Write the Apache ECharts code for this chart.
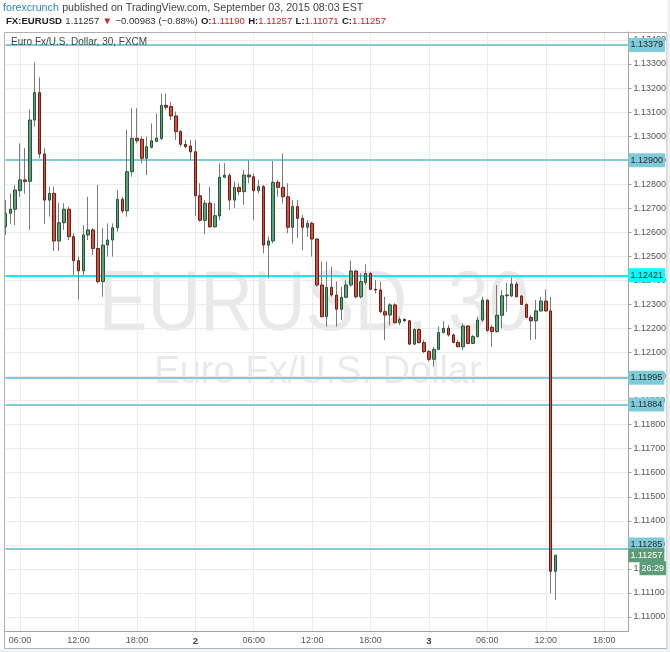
<!DOCTYPE html>
<html><head><meta charset="utf-8">
<script src="https://cdn.jsdelivr.net/npm/echarts@6/dist/echarts.min.js"></script>
<style>html,body{margin:0;padding:0;background:#fff;}#c{width:670px;height:652px;}</style>
</head><body><div id="c"></div>
<script>
// ---- data (30-minute EUR/USD candles, Sep 1 04:30 -> Sep 3 13:00) ----
const opens = [
1.12623,1.12679,1.12696,1.12773,1.12818,1.12812,1.13067,1.13181,1.12926,1.12734,
1.12762,1.12564,1.12640,1.12696,1.12582,1.12482,1.12440,1.12589,1.12610,1.12533,
1.12395,1.12547,1.12568,1.12619,1.12737,1.12689,1.12852,1.12991,1.12987,1.12908,
1.12953,1.12978,1.12990,1.13128,1.13123,1.13084,1.13019,1.12966,1.12959,1.12935,
1.12752,1.12650,1.12721,1.12623,1.12668,1.12829,1.12836,1.12734,1.12787,1.12769,
1.12838,1.12831,1.12773,1.12790,1.12547,1.12564,1.12808,1.12787,1.12748,1.12621,
1.12707,1.12658,1.12621,1.12637,1.12572,1.12381,1.12249,1.12371,1.12339,1.12280,
1.12330,1.12381,1.12439,1.12332,1.12392,1.12429,1.12363,1.12360,1.12270,1.12256,
1.12298,1.12224,1.12238,1.12232,1.12135,1.12196,1.12141,1.12104,1.12072,1.12113,
1.12183,1.12201,1.12173,1.12142,1.12124,1.12210,1.12138,1.12166,1.12235,1.12318,
1.12205,1.12187,1.12255,1.12336,1.12335,1.12385,1.12335,1.12300,1.12246,1.12232,
1.12273,1.12314,1.12273,1.11190];
const highs = [
1.12734,1.12762,1.12797,1.12970,1.12950,1.13111,1.13306,1.13245,1.12949,1.12790,
1.12790,1.12721,1.12721,1.12707,1.12596,1.12499,1.12630,1.12748,1.12617,1.12797,
1.12617,1.12637,1.12637,1.12776,1.12748,1.13026,1.13116,1.13116,1.12998,1.12998,
1.13053,1.13095,1.13178,1.13178,1.13143,1.13102,1.13026,1.12984,1.12984,1.12984,
1.12804,1.12734,1.12790,1.12721,1.12887,1.12887,1.12845,1.12811,1.12804,1.12859,
1.12898,1.12845,1.12818,1.12797,1.12582,1.12896,1.12818,1.12928,1.12804,1.12734,
1.12734,1.12672,1.12651,1.12644,1.12575,1.12478,1.12478,1.12457,1.12395,1.12374,
1.12402,1.12482,1.12443,1.12429,1.12467,1.12434,1.12402,1.12395,1.12332,1.12305,
1.12305,1.12249,1.12242,1.12235,1.12201,1.12201,1.12152,1.12110,1.12124,1.12208,
1.12231,1.12214,1.12180,1.12152,1.12221,1.12214,1.12173,1.12249,1.12332,1.12321,
1.12214,1.12381,1.12360,1.12390,1.12413,1.12395,1.12339,1.12305,1.12256,1.12318,
1.12332,1.12363,1.12332,1.11257];
const lows = [
1.12589,1.12637,1.12630,1.12748,1.12760,1.12610,1.13039,1.12908,1.12635,1.12665,
1.12522,1.12522,1.12610,1.12568,1.12422,1.12321,1.12422,1.12568,1.12506,1.12388,
1.12332,1.12499,1.12499,1.12603,1.12679,1.12665,1.12831,1.12970,1.12887,1.12838,
1.12949,1.12977,1.12984,1.13109,1.13067,1.12984,1.12956,1.12949,1.12901,1.12668,
1.12644,1.12592,1.12619,1.12619,1.12651,1.12825,1.12693,1.12700,1.12755,1.12714,
1.12804,1.12651,1.12762,1.12513,1.12409,1.12554,1.12748,1.12721,1.12596,1.12554,
1.12575,1.12526,1.12582,1.12499,1.12374,1.12246,1.12208,1.12332,1.12208,1.12235,
1.12325,1.12374,1.12325,1.12325,1.12381,1.12360,1.12346,1.12263,1.12152,1.12214,
1.12221,1.12214,1.12229,1.12131,1.12131,1.12138,1.12097,1.12062,1.12041,1.12110,
1.12180,1.12166,1.12138,1.12122,1.12110,1.12135,1.12135,1.12163,1.12228,1.12187,
1.12124,1.12183,1.12201,1.12270,1.12332,1.12330,1.12298,1.12242,1.12152,1.12155,
1.12270,1.12270,1.11099,1.11071];
const closes = [
1.12679,1.12696,1.12776,1.12818,1.12812,1.13067,1.13181,1.12926,1.12734,1.12762,
1.12564,1.12640,1.12696,1.12582,1.12482,1.12440,1.12589,1.12610,1.12533,1.12395,
1.12547,1.12568,1.12619,1.12737,1.12689,1.12852,1.12991,1.12981,1.12908,1.12956,
1.12981,1.12992,1.13128,1.13120,1.13084,1.13019,1.12966,1.12956,1.12935,1.12752,
1.12650,1.12721,1.12623,1.12669,1.12829,1.12838,1.12734,1.12787,1.12769,1.12838,
1.12831,1.12773,1.12790,1.12547,1.12564,1.12808,1.12787,1.12748,1.12621,1.12707,
1.12658,1.12621,1.12637,1.12572,1.12381,1.12249,1.12371,1.12339,1.12280,1.12330,
1.12381,1.12439,1.12332,1.12395,1.12429,1.12363,1.12360,1.12270,1.12256,1.12298,
1.12224,1.12238,1.12232,1.12135,1.12196,1.12141,1.12104,1.12072,1.12113,1.12183,
1.12201,1.12173,1.12142,1.12124,1.12210,1.12138,1.12166,1.12235,1.12318,1.12191,
1.12187,1.12255,1.12336,1.12339,1.12385,1.12332,1.12300,1.12246,1.12232,1.12273,
1.12314,1.12273,1.11190,1.11257];

// horizontal levels drawn on the chart
const levels = [1.13379, 1.12900, 1.12421, 1.11995, 1.11884, 1.11285];
// price axis tick labels
const yTicks = [1.110,1.111,1.112,1.113,1.114,1.115,1.116,1.117,1.118,1.119,1.120,1.121,1.122,
                1.123,1.124,1.125,1.126,1.127,1.128,1.129,1.130,1.131,1.132,1.133,1.134];
const yMin = 1.109418, yMax = 1.134331;
const countdown = '26:29';

// time categories: every 30 minutes from Sep 1 04:30 to Sep 3 20:30
const startMs = Date.UTC(2015, 8, 1, 4, 30);
const nSlots = 129;
const cats = [];
for (let i = 0; i < nSlots; i++) {
  const d = new Date(startMs + i * 1800000);
  const p = n => String(n).padStart(2, '0');
  cats.push(d.getUTCDate() + ' ' + p(d.getUTCHours()) + ':' + p(d.getUTCMinutes()));
}
function isMajor(idx, val) {
  const t = val.split(' ')[1];
  const h = +t.slice(0, 2), m = +t.slice(3);
  return m === 0 && h % 6 === 0;
}
function fmtX(val) {
  const [day, t] = val.split(' ');
  if (t === '00:00') return '{d|' + day + '}';
  return t;
}

const wickData = opens.map((o, i) => [o, closes[i], lows[i], highs[i]]);
const bodyData = opens.map((o, i) => [o, closes[i], Math.min(o, closes[i]), Math.max(o, closes[i])]);

const lvlLine = ['#7fcbd9','#7fcbd9','#16e8ee','#7fcbd9','#7fcbd9','#7fcbd9'];
const lvlBg   = ['#7fcbd9','#7fcbd9','#00ffff','#7fcbd9','#7fcbd9','#7fcbd9'];
const lvlOff  = [[0,0],[0,0],[0,0],[0,0],[0,0],[0,-4]];
const FONT = 'Liberation Sans';
const tagLabel = { show: true, position: 'end', distance: 0, fontSize: 9, fontFamily: FONT, padding: [3, 2, 2, 2] };

const mlData = levels.map((v, i) => ({
  yAxis: v,
  lineStyle: { color: lvlLine[i], width: 2, type: 'solid' },
  label: Object.assign({}, tagLabel, { offset: lvlOff[i], formatter: p => (+p.value).toFixed(5),
    backgroundColor: lvlBg[i], color: '#2b2b2b' })
}));
const last = closes[closes.length - 1];
mlData.push({
  yAxis: last,
  lineStyle: { color: 'rgba(0,0,0,0)', width: 0 },
  label: Object.assign({}, tagLabel, { formatter: p => (+p.value).toFixed(5), backgroundColor: '#5c9c77', color: '#ffffff' })
});
mlData.push({
  yAxis: last,
  lineStyle: { color: 'rgba(0,0,0,0)', width: 0 },
  label: Object.assign({}, tagLabel, { distance: 11, offset: [0, 13], formatter: () => countdown,
    backgroundColor: '#5c9c77', color: '#ffffff' })
});

const chart = echarts.init(document.getElementById('c'), null, { renderer: 'canvas' });
chart.setOption({
  animation: false,
  backgroundColor: '#ffffff',
  grid: { left: 5.5, right: 41.5, top: 32, bottom: 21, containLabel: false, outerBoundsMode: 'none' },
  xAxis: {
    type: 'category', data: cats, boundaryGap: false,
    axisLine: { show: true, lineStyle: { color: '#a3a3a3' } },
    axisTick: { show: false, interval: isMajor },
    axisLabel: { interval: isMajor, formatter: fmtX, color: '#555', fontSize: 9, fontFamily: FONT, margin: 5,
      rich: { d: { fontWeight: 'bold', color: '#444', fontSize: 9.5, fontFamily: FONT } } },
    splitLine: { show: true, interval: isMajor, lineStyle: { color: '#ebebeb', width: 1 } }
  },
  yAxis: {
    type: 'value', position: 'right', min: yMin, max: yMax, scale: true,
    axisLine: { show: true, lineStyle: { color: '#a3a3a3' } },
    axisTick: { show: true, customValues: yTicks, length: 3, lineStyle: { color: '#a3a3a3' } },
    axisLabel: { customValues: yTicks, formatter: v => v.toFixed(5), color: '#555', fontSize: 9, fontFamily: FONT, margin: 5 },
    splitLine: { show: true, lineStyle: { color: '#ebebeb', width: 1 } }
  },
  graphic: [
    { type: 'text', x: 314, y: 306, z: -1, silent: true, scaleX: 0.85, originX: 0,
      style: { text: 'EURUSD, 30', font: '86px "Liberation Sans"', fill: 'rgba(0,0,0,0.085)', align: 'center', verticalAlign: 'middle' } },
    { type: 'text', x: 318, y: 373, z: -1, silent: true,
      style: { text: 'Euro Fx/U.S. Dollar', font: '38px "Liberation Sans"', fill: 'rgba(0,0,0,0.085)', align: 'center', verticalAlign: 'middle' } },
    { type: 'text', x: 11, y: 42, z: 10, silent: true,
      style: { text: 'Euro Fx/U.S. Dollar, 30, FXCM', font: '10px "Liberation Sans"', fill: '#444', align: 'left', verticalAlign: 'middle' } },
    { type: 'text', x: 3, y: 8, z: 10, silent: true,
      style: { text: '{a|forexcrunch} {b|published on TradingView.com, September 03, 2015 08:03 EST}', verticalAlign: 'middle',
        rich: { a: { fill: '#2f86c4', fontSize: 10.7, fontFamily: FONT }, b: { fill: '#444', fontSize: 10.7, fontFamily: FONT } } } },
    { type: 'text', x: 6, y: 21, z: 10, silent: true,
      style: { text: '{k|FX:EURUSD} {n|1.11257} {r|▼} {n|\u22120.00983 (\u22120.88%)} {k|O:}{r|1.11190} {k|H:}{r|1.11257} {k|L:}{r|1.11071} {k|C:}{r|1.11257}', verticalAlign: 'middle',
        rich: { k: { fill: '#222', fontSize: 9.6, fontWeight: 'bold', fontFamily: FONT },
                n: { fill: '#333', fontSize: 9.6, fontFamily: FONT },
                r: { fill: '#c3262c', fontSize: 9.6, fontFamily: FONT } } } },
    { type: 'rect', z: 20, silent: true, shape: { x: 4.5, y: 32.5, width: 662.5, height: 616 },
      style: { fill: 'none', stroke: '#b0b0b0', lineWidth: 1 } },
    { type: 'rect', z: 20, silent: true, shape: { x: 0, y: 649.5, width: 670, height: 3 }, style: { fill: '#eef1f4' } },
    { type: 'rect', z: 20, silent: true, shape: { x: 667.5, y: 0, width: 3, height: 652 }, style: { fill: '#eef1f4' } }
  ],
  series: [
    { type: 'candlestick', name: 'wick', data: wickData, barWidth: 0.01, z: 2,
      itemStyle: { color: '#7a7a7a', color0: '#7a7a7a', borderColor: '#7a7a7a', borderColor0: '#7a7a7a', borderWidth: 1 },
      markLine: { silent: true, symbol: ['none', 'none'], precision: 5, z: 1, data: mlData, animation: false } },
    { type: 'candlestick', name: 'body', data: bodyData, barWidth: 3, z: 3,
      itemStyle: { color: '#5f9f7a', color0: '#d5503e', borderColor: '#24573a', borderColor0: '#6a1f15', borderWidth: 1 } }
  ]
});
</script></body></html>
